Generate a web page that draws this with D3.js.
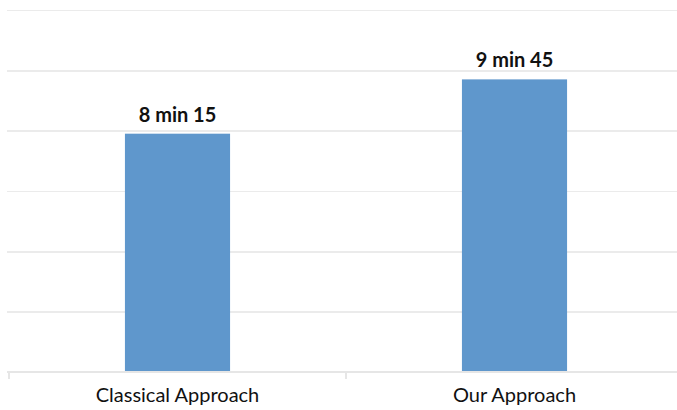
<!DOCTYPE html>
<html>
  <head>
    <script src="https://d3js.org/d3.v7.min.js" charset="utf-8"></script>
    <style type="text/css">
      body {
        margin: 0;
        padding: 0;
        background: #fff;
      }
      .grid line {
        stroke: #ebebeb;
        stroke-width: 1.5;
        shape-rendering: crispEdges;
      }
      .grid path {
        display: none;
      }
      .x.axis path,
      .x.axis line {
        stroke: #e6e6e6;
        stroke-width: 1.5;
        shape-rendering: crispEdges;
      }
      .x.axis text {
        font-family: Lato, "Open Sans", sans-serif;
        font-size: 20px;
        fill: #111;
      }
      .label {
        font-family: Lato, "Open Sans", sans-serif;
        font-weight: bold;
        font-size: 20px;
        fill: #111;
        text-anchor: middle;
      }
    </style>
  </head>
  <body>
    <svg id="chart"></svg>
    <script type="text/javascript">
      // data (seconds)
      var categories = ["Classical Approach", "Our Approach"];
      var seconds = [495, 585];
      var valueLabels = ["8 min 15", "9 min 45"];
      var gridTicks = [100, 200, 300, 400, 500, 600, 700];

      var canvas_width = 677;
      var canvas_height = 410;
      var baseline = 372;
      var top_y = 10;

      var svg = d3.select("#chart")
        .attr("width", canvas_width)
        .attr("height", canvas_height);

      var xScale = d3.scaleBand()
        .domain(categories)
        .range([9, 683])
        .paddingInner(0.688)
        .paddingOuter(0.344);

      var yScale = d3.scaleLinear()
        .domain([100, 700])
        .range([baseline, top_y]);

      // horizontal gridlines
      svg.append("g")
        .attr("class", "grid")
        .attr("transform", "translate(7,0)")
        .call(d3.axisLeft(yScale)
          .tickValues(gridTicks.slice(1))
          .tickSize(-(canvas_width - 7))
          .tickFormat(""));

      // bars
      svg.append("g")
        .selectAll("rect")
        .data(seconds)
        .enter()
        .append("rect")
        .attr("x", function (d, i) { return xScale(categories[i]); })
        .attr("y", function (d) { return yScale(d); })
        .attr("width", xScale.bandwidth())
        .attr("height", function (d) { return baseline - yScale(d); })
        .style("fill", "#5f97cc");

      // value labels
      svg.append("g")
        .selectAll("text")
        .data(seconds)
        .enter()
        .append("text")
        .attr("class", "label")
        .attr("x", function (d, i) { return xScale(categories[i]) + xScale.bandwidth() / 2; })
        .attr("y", function (d) { return yScale(d) - 12; })
        .text(function (d, i) { return valueLabels[i]; });

      // x axis, ticks on the category boundaries
      var xAxis = svg.append("g")
        .attr("class", "x axis")
        .attr("transform", "translate(0," + baseline + ")");

      xAxis.append("line")
        .attr("x1", 7)
        .attr("x2", canvas_width)
        .attr("y1", 0)
        .attr("y2", 0);

      xAxis.selectAll("line.tick")
        .data(categories)
        .enter()
        .append("line")
        .attr("class", "tick")
        .attr("x1", function (d) { return xScale(d) - xScale.step() * xScale.paddingInner() / 2; })
        .attr("x2", function (d) { return xScale(d) - xScale.step() * xScale.paddingInner() / 2; })
        .attr("y1", 0)
        .attr("y2", 7);

      xAxis.selectAll("text")
        .data(categories)
        .enter()
        .append("text")
        .attr("x", function (d) { return xScale(d) + xScale.bandwidth() / 2; })
        .attr("y", 30)
        .style("text-anchor", "middle")
        .text(function (d) { return d; });
    </script>
  </body>
</html>
